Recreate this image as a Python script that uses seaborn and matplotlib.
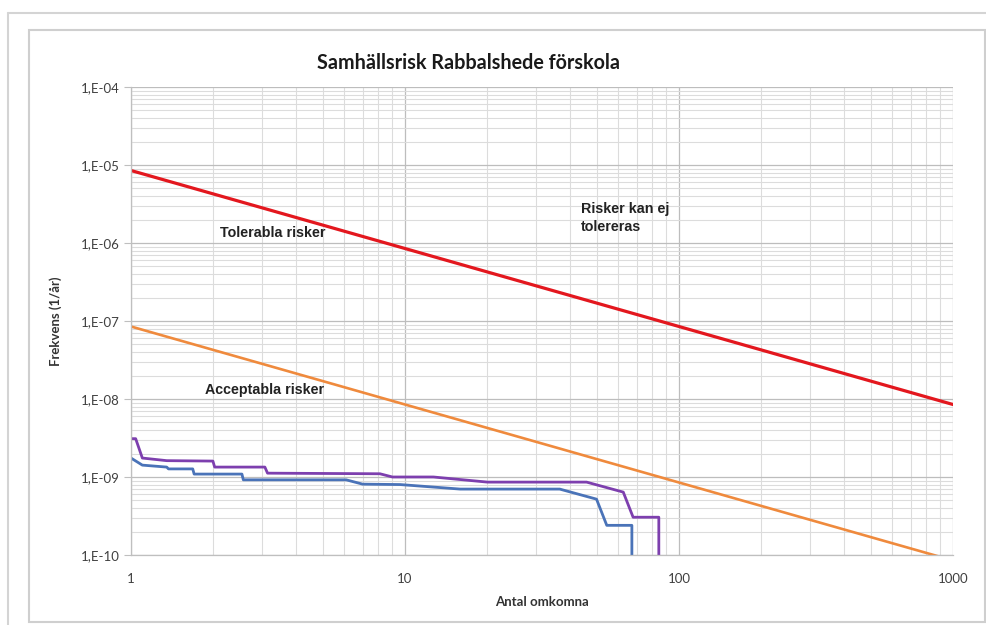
import numpy as np
import pandas as pd
import matplotlib
matplotlib.use("Agg")
import matplotlib.pyplot as plt
import seaborn as sns
from matplotlib.ticker import FuncFormatter, LogLocator, NullFormatter
from matplotlib.patches import Rectangle
from matplotlib.lines import Line2D

# ------------------------------------------------------------------
# DATA
# ------------------------------------------------------------------
crit_x = [1, 1000]
tolerable_y = [8.5e-6, 8.5e-9]      # upper criterion (red)
acceptable_y = [8.5e-8, 8.5e-11]    # lower criterion (orange)

purple_x = [1, 1.04, 1.1, 1.35, 1.99, 2.02, 3.08, 3.15, 8.1, 9.0,
            12.7, 20, 46, 62.6, 68, 84.4, 84.4]
purple_y = [3.1e-9, 3.1e-9, 1.75e-9, 1.62e-9, 1.6e-9, 1.34e-9, 1.34e-9,
            1.12e-9, 1.1e-9, 1.0e-9, 1.0e-9, 8.6e-10, 8.6e-10, 6.4e-10,
            3.05e-10, 3.05e-10, 5e-11]

blue_x = [1, 1.1, 1.35, 1.37, 1.68, 1.7, 2.54, 2.57, 6.1, 7.0, 9.6,
          15.9, 36.7, 50, 54.5, 67.3, 67.3]
blue_y = [1.75e-9, 1.42e-9, 1.34e-9, 1.27e-9, 1.27e-9, 1.09e-9, 1.09e-9,
          9.2e-10, 9.2e-10, 8.1e-10, 8.0e-10, 7.0e-10, 7.0e-10, 5.2e-10,
          2.4e-10, 2.4e-10, 5e-11]

title = "Samhällsrisk Rabbalshede förskola"
xlabel = "Antal omkomna"
ylabel = "Frekvens (1/år)"

# ------------------------------------------------------------------
# PLOT
# ------------------------------------------------------------------
sns.set_style("white")
plt.rcParams["font.family"] = ["Lato", "DejaVu Sans"]

W, H = 987, 625
fig = plt.figure(figsize=(W / 100, H / 100), dpi=100)
ax = fig.add_axes([131 / W, 1 - 555 / H, (953 - 131) / W, (555 - 87) / H])

# chart borders (screenshot frame)
fig.add_artist(Line2D([8 / W, 1], [1 - 13 / H, 1 - 13 / H], transform=fig.transFigure,
                      color="#d4d4d4", linewidth=1.5))
fig.add_artist(Line2D([8 / W, 8 / W], [0, 1 - 13 / H], transform=fig.transFigure,
                      color="#d4d4d4", linewidth=1.5))
fig.patches.append(Rectangle((29 / W, 3 / H), (985 - 29) / W, (622 - 30) / H,
                             transform=fig.transFigure, fill=False,
                             edgecolor="#cfcfcf", linewidth=1.5))

ax.set_xscale("log")
ax.set_yscale("log")

sns.lineplot(x=crit_x, y=tolerable_y, ax=ax, color="#e3171e", linewidth=2.3,
             estimator=None, sort=False)
sns.lineplot(x=crit_x, y=acceptable_y, ax=ax, color="#ef8a3d", linewidth=1.9,
             estimator=None, sort=False)
sns.lineplot(x=purple_x, y=purple_y, ax=ax, color="#7d3fae", linewidth=2.0,
             estimator=None, sort=False)
sns.lineplot(x=blue_x, y=blue_y, ax=ax, color="#4a73b8", linewidth=2.0,
             estimator=None, sort=False)

ax.set_xlim(1, 1000)
ax.set_ylim(1e-10, 1e-4)

ax.xaxis.set_major_locator(LogLocator(base=10, numticks=10))
ax.yaxis.set_major_locator(LogLocator(base=10, numticks=10))
ax.xaxis.set_minor_locator(LogLocator(base=10, subs=np.arange(2, 10), numticks=100))
ax.yaxis.set_minor_locator(LogLocator(base=10, subs=np.arange(2, 10), numticks=100))
ax.xaxis.set_minor_formatter(NullFormatter())
ax.yaxis.set_minor_formatter(NullFormatter())
ax.xaxis.set_major_formatter(FuncFormatter(lambda v, p: f"{v:g}"))
ax.yaxis.set_major_formatter(
    FuncFormatter(lambda v, p: f"1,E-{-int(round(np.log10(v))):02d}"))

ax.grid(True, which="major", color="#bdbdbd", linewidth=0.9)
ax.grid(True, which="minor", color="#dcdcdc", linewidth=0.8)
ax.set_axisbelow(True)

for s in ["top", "right"]:
    ax.spines[s].set_visible(False)
for s in ["left", "bottom"]:
    ax.spines[s].set_color("#bfbfbf")
    ax.spines[s].set_linewidth(0.9)

ax.tick_params(axis="y", which="major", length=5, color="#bfbfbf", labelsize=9.5,
               labelcolor="#404040", pad=3, left=True)
ax.tick_params(axis="x", which="major", length=0, labelsize=9.5,
               labelcolor="#404040", pad=13)
ax.tick_params(which="minor", length=0)

fig.text(469 / W, 1 - 63 / H, title, fontsize=14.2, fontweight="bold",
         color="#1a1a1a", ha="center", va="center")
ax.set_xlabel(xlabel, fontsize=9.5, fontweight="bold", color="#333333", labelpad=8)
ax.set_ylabel(ylabel, fontsize=9.5, fontweight="bold", color="#333333", labelpad=14)

ann = dict(fontsize=10.3, fontweight="bold", color="#222222",
           family=["Liberation Sans", "DejaVu Sans"], va="center")
ax.text(2.11, 1.35e-6, "Tolerabla risker", **ann)
ax.text(44, 2.1e-6, "Risker kan ej\ntolereras", linespacing=1.3, **ann)
ax.text(1.86, 1.3e-8, "Acceptabla risker", **ann)

fig.savefig("out.png", dpi=100)
